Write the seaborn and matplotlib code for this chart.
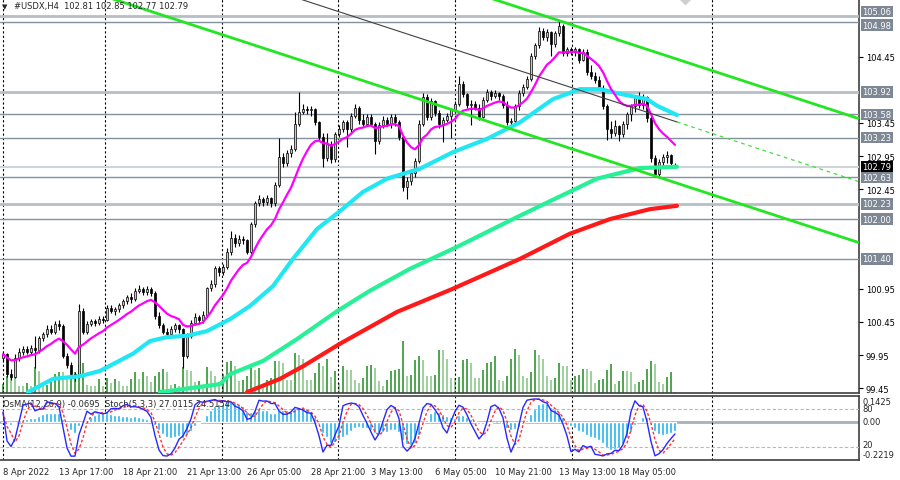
import numpy as np
import pandas as pd
import matplotlib
matplotlib.use("Agg")
import matplotlib.pyplot as plt
import matplotlib.transforms as mtransforms
import seaborn as sns

# --- #USDX H4, 169 bars ---
opens = [99.90, 99.96, 99.66, 99.62, 99.90, 100.00, 100.04, 100.00, 100.06, 100.02,
         100.20, 100.26, 100.34, 100.30, 100.42, 100.38, 99.94, 99.80, 99.66, 99.62,
         100.62, 100.30, 100.42, 100.46, 100.44, 100.50, 100.48, 100.66, 100.62, 100.64,
         100.70, 100.76, 100.82, 100.80, 100.92, 100.94, 100.90, 100.95, 100.89, 100.54,
         100.40, 100.30, 100.26, 100.34, 100.40, 100.34, 99.94, 100.24, 100.44, 100.52,
         100.48, 100.56, 100.96, 101.02, 101.26, 101.20, 101.28, 101.50, 101.72, 101.64,
         101.70, 101.68, 101.50, 101.92, 102.24, 102.30, 102.26, 102.32, 102.24, 102.52,
         102.94, 102.84, 103.00, 103.06, 103.44, 103.62, 103.66, 103.64, 103.66, 103.46,
         103.24, 102.92, 103.14, 102.90, 103.28, 103.36, 103.46, 103.36, 103.56, 103.68,
         103.50, 103.44, 103.54, 103.44, 103.18, 103.42, 103.50, 103.44, 103.54, 103.46,
         103.24, 102.48, 102.58, 102.70, 102.88, 103.44, 103.84, 103.54, 103.78, 103.60,
         103.44, 103.50, 103.56, 103.64, 103.74, 104.04, 103.88, 103.72, 103.74, 103.68,
         103.54, 103.80, 103.92, 103.86, 103.90, 103.86, 103.72, 103.46, 103.48, 103.70,
         103.90, 104.00, 104.12, 104.46, 104.62, 104.84, 104.74, 104.82, 104.64, 104.80,
         104.92, 104.50, 104.56, 104.52, 104.56, 104.40, 104.52, 104.22, 104.16, 104.10,
         103.98, 103.70, 103.36, 103.30, 103.40, 103.28, 103.44, 103.58, 103.70, 103.82,
         103.72, 103.84, 103.52, 102.92, 102.68, 102.86, 102.94, 102.96, 102.81]
highs = [100.00, 99.98, 99.74, 99.96, 100.06, 100.08, 100.08, 100.10, 100.24, 100.24,
         100.30, 100.40, 100.40, 100.46, 100.48, 100.42, 99.98, 99.84, 99.70, 100.72,
         100.66, 100.46, 100.50, 100.50, 100.54, 100.54, 100.70, 100.70, 100.68, 100.74,
         100.80, 100.86, 100.88, 100.96, 101.00, 100.98, 100.99, 100.97, 100.92, 100.60,
         100.44, 100.36, 100.38, 100.44, 100.42, 100.36, 100.28, 100.48, 100.58, 100.56,
         100.62, 100.98, 101.08, 101.30, 101.30, 101.32, 101.56, 101.82, 101.78, 101.76,
         101.74, 101.70, 101.96, 102.28, 102.36, 102.34, 102.36, 102.34, 102.56, 103.22,
         103.00, 103.04, 103.12, 103.62, 103.92, 103.74, 103.70, 103.70, 103.68, 103.48,
         103.30, 103.30, 103.18, 103.32, 103.42, 103.50, 103.50, 103.60, 103.74, 103.70,
         103.58, 103.58, 103.58, 103.46, 103.46, 103.56, 103.54, 103.58, 103.58, 103.50,
         103.26, 102.64, 102.76, 102.92, 103.50, 103.90, 103.88, 103.82, 103.80, 103.64,
         103.54, 103.60, 103.68, 103.78, 104.16, 104.08, 103.90, 103.80, 103.78, 103.74,
         103.84, 103.96, 103.94, 103.94, 103.92, 103.88, 103.78, 103.52, 103.74, 103.94,
         104.04, 104.16, 104.50, 104.66, 104.90, 104.88, 104.86, 104.84, 104.84, 104.99,
         104.94, 104.60, 104.60, 104.60, 104.58, 104.56, 104.56, 104.32, 104.22, 104.16,
         104.02, 103.74, 103.48, 103.50, 103.42, 103.48, 103.62, 103.74, 103.86, 103.92,
         103.88, 103.86, 103.56, 102.96, 102.90, 102.98, 103.02, 102.98, 102.85]
lows = [99.84, 99.62, 99.58, 99.60, 99.86, 99.95, 99.96, 99.96, 99.76, 99.98,
        100.16, 100.22, 100.26, 100.26, 100.32, 99.90, 99.76, 99.62, 99.56, 99.60,
        100.26, 100.26, 100.38, 100.38, 100.40, 100.44, 100.46, 100.58, 100.56, 100.60,
        100.66, 100.72, 100.74, 100.76, 100.88, 100.86, 100.86, 100.84, 100.50, 100.36,
        100.26, 100.22, 100.24, 100.30, 100.28, 99.76, 99.90, 100.20, 100.40, 100.42,
        100.44, 100.52, 100.92, 100.98, 101.14, 101.16, 101.24, 101.46, 101.58, 101.60,
        101.62, 101.48, 101.46, 101.88, 102.20, 102.20, 102.22, 102.18, 102.20, 102.48,
        102.78, 102.80, 102.94, 103.02, 103.40, 103.58, 103.58, 103.56, 103.42, 103.20,
        102.78, 102.88, 102.84, 102.86, 103.24, 103.32, 103.08, 103.32, 103.52, 103.44,
        103.40, 103.40, 103.40, 102.98, 103.14, 103.38, 103.40, 103.38, 103.40, 103.20,
        102.42, 102.30, 102.52, 102.64, 102.84, 103.40, 103.50, 103.50, 103.56, 103.38,
        103.16, 103.46, 103.22, 103.60, 103.70, 103.84, 103.68, 103.42, 103.64, 103.50,
        103.52, 103.76, 103.80, 103.82, 103.80, 103.68, 103.42, 103.40, 103.44, 103.64,
        103.86, 103.96, 104.08, 104.42, 104.58, 104.70, 104.68, 104.46, 104.60, 104.76,
        104.46, 104.46, 104.48, 104.46, 104.36, 104.38, 104.18, 104.12, 104.06, 103.94,
        103.66, 103.20, 103.22, 103.26, 103.18, 103.24, 103.36, 103.48, 103.62, 103.68,
        103.66, 103.46, 102.86, 102.63, 102.64, 102.80, 102.84, 102.80, 102.77]
closes = [99.96, 99.66, 99.62, 99.90, 100.00, 100.04, 100.00, 100.06, 100.02, 100.20,
          100.26, 100.34, 100.30, 100.42, 100.38, 99.94, 99.80, 99.66, 99.62, 100.62,
          100.30, 100.42, 100.46, 100.44, 100.50, 100.48, 100.66, 100.62, 100.64, 100.70,
          100.76, 100.82, 100.80, 100.92, 100.94, 100.90, 100.95, 100.89, 100.54, 100.40,
          100.30, 100.26, 100.34, 100.40, 100.34, 99.94, 100.24, 100.44, 100.52, 100.48,
          100.56, 100.96, 101.02, 101.26, 101.20, 101.28, 101.50, 101.72, 101.64, 101.70,
          101.68, 101.50, 101.92, 102.24, 102.30, 102.26, 102.32, 102.24, 102.52, 102.94,
          102.84, 103.00, 103.06, 103.44, 103.62, 103.66, 103.64, 103.66, 103.46, 103.24,
          102.92, 103.14, 102.90, 103.28, 103.36, 103.46, 103.36, 103.56, 103.68, 103.50,
          103.44, 103.54, 103.44, 103.18, 103.42, 103.50, 103.44, 103.54, 103.46, 103.24,
          102.48, 102.58, 102.70, 102.88, 103.44, 103.84, 103.54, 103.78, 103.60, 103.44,
          103.50, 103.56, 103.64, 103.74, 104.04, 103.88, 103.72, 103.74, 103.68, 103.54,
          103.80, 103.92, 103.86, 103.90, 103.86, 103.72, 103.46, 103.48, 103.70, 103.90,
          104.00, 104.12, 104.46, 104.62, 104.84, 104.74, 104.82, 104.64, 104.80, 104.92,
          104.50, 104.56, 104.52, 104.56, 104.40, 104.52, 104.22, 104.16, 104.10, 103.98,
          103.70, 103.36, 103.30, 103.40, 103.28, 103.44, 103.58, 103.70, 103.82, 103.72,
          103.84, 103.52, 102.92, 102.68, 102.86, 102.94, 102.96, 102.84, 102.79]
volumes = [9, 17, 17, 16, 7, 7, 10, 7, 26, 22, 7, 8, 11, 19, 21, 21, 14, 17, 21, 29,
           30, 8, 7, 7, 14, 7, 15, 10, 14, 12, 7, 7, 14, 21, 14, 21, 17, 11, 17, 21,
           24, 21, 8, 9, 7, 26, 23, 22, 11, 12, 7, 26, 22, 17, 11, 19, 31,
           32, 27, 12, 13, 17, 27, 23, 25, 7, 13, 15, 32, 32, 30, 13, 13, 40, 38, 34, 13,
           13, 20, 30, 27, 34, 16, 22, 10, 27, 23, 23, 13, 10, 15, 27, 28, 25, 12, 7, 13,
           22, 23, 24, 52, 17, 18, 33, 37, 33, 17, 17, 18, 43, 43, 34, 15, 15, 16, 33, 34,
           30, 15, 15, 23, 30, 31, 37, 13, 12, 17, 34, 44, 38, 17, 15, 21, 43, 38, 34, 17,
           13, 15, 30, 27, 27, 13, 17, 18, 24, 24, 22, 10, 13, 14, 23, 29,
           9, 12, 22, 22, 21, 9, 11, 13, 24, 32, 29, 11, 9, 16, 21, 1]

# slow moving averages read at sample bars
ma_cyan_bar = [6.25, 12.5, 19.25, 24.25, 32.5, 36.75, 41, 46, 51, 56.75, 61.75, 67.5, 72.5,
               78.5, 84.25, 90, 96, 104.25, 112.5, 121, 129.25, 137.5, 144.25, 149.25,
               154.25, 161, 163.5, 168.5]
ma_cyan_val = [99.39, 99.59, 99.63, 99.71, 99.97, 100.16, 100.22, 100.24, 100.31, 100.49,
               100.69, 100.99, 101.40, 101.85, 102.12, 102.41, 102.61, 102.76, 103.01,
               103.21, 103.46, 103.81, 103.96, 103.96, 103.89, 103.81, 103.71, 103.57]
ma_green_bar = [39.25, 54.25, 56.75, 65, 73.5, 83.5, 91.75, 101.75, 113.5, 127.5, 136.75,
                148.5, 159.25, 168.5]
ma_green_val = [99.39, 99.51, 99.66, 99.86, 100.19, 100.61, 100.92, 101.25, 101.58, 102.00,
                102.27, 102.61, 102.77, 102.79]
ma_red_bar = [61, 69.25, 75, 84.25, 98.5, 112.5, 129.25, 141.75, 151.75, 161.75, 168.5]
ma_red_val = [99.39, 99.59, 99.78, 100.12, 100.60, 100.95, 101.40, 101.78, 102.00, 102.15,
              102.20]

# trend lines (bar, price)
channel_low_bar = [27.5, 213.75]
channel_low_val = [105.32, 101.65]
channel_high_bar = [122.5, 213.75]
channel_high_val = [105.32, 103.52]
thin_line_bar = [74.25, 168.5, 213.75]
thin_line_val = [105.32, 103.465, 102.57]

levels_light = [105.06, 103.92, 102.23]
levels_dark = [104.98, 103.58, 103.23, 102.63, 102.00, 101.40]
bid_price = 102.79
price_ticks = [104.45, 103.45, 102.95, 102.45, 100.95, 100.45, 99.95, 99.45]

time_bars = [0, 14, 30, 46, 61, 77, 92, 108, 123, 139, 154]
time_labels = ["8 Apr 2022", "13 Apr 17:00", "18 Apr 21:00", "21 Apr 13:00", "26 Apr 05:00",
               "28 Apr 21:00", "3 May 13:00", "6 May 05:00", "10 May 21:00", "13 May 13:00",
               "18 May 05:00"]
grid_bars = [0, 25.5, 54.75, 83.75, 113, 142.25, 177.25]

sns.set_style("white")
plt.rcParams['font.family'] = ['DejaVu Sans']

df = pd.DataFrame({'open': opens, 'high': highs, 'low': lows, 'close': closes,
                   'volume': volumes})
df['bar'] = np.arange(len(df))
df['ma_fast'] = df['close'].ewm(span=12, adjust=False).mean()

# OsMA(12,26,9)
macd = df['close'].ewm(span=12, adjust=False).mean() - df['close'].ewm(span=26, adjust=False).mean()
df['osma'] = macd - macd.rolling(9, min_periods=1).mean()
# Stochastic(5,3,3)
ll = df['low'].rolling(5, min_periods=1).min()
hh = df['high'].rolling(5, min_periods=1).max()
num = (df['close'] - ll).rolling(3, min_periods=1).sum()
den = (hh - ll).rolling(3, min_periods=1).sum()
df['stoch_k'] = 100 * num / den
df['stoch_d'] = df['stoch_k'].rolling(3, min_periods=1).mean()

fig = plt.figure(figsize=(9, 4.81), dpi=100)
axv = fig.add_axes([0, 0.1809, 0.9544, 0.8191])
ax = axv.twinx()
axi = fig.add_axes([0, 0.0416, 0.9544, 0.1331], sharex=axv)
axs = axi.twinx()

axv.set_xlim(-0.75, 214)
ax.set_ylim(99.377, 105.32)
axv.set_ylim(0, 394)

# volumes
vol_prev = df['volume'].shift(1).fillna(0)
vol_col = np.where(df['volume'] > vol_prev, '#1f8c1f', '#82c482')
axv.vlines(df['bar'], 0, df['volume'], colors=vol_col, linewidth=1.1)

for g in grid_bars:
    axv.axvline(g, color='black', linewidth=0.8, linestyle=(0, (2, 2)))
    axi.axvline(g, color='black', linewidth=0.8, linestyle=(0, (2, 2)))

# horizontal levels
for lv in levels_light:
    ax.axhline(lv, color='#b6bec6', linewidth=2, zorder=1)
for lv in levels_dark:
    ax.axhline(lv, color='#8492a0', linewidth=1, zorder=1)
ax.axhline(bid_price, color='#d0d4d8', linewidth=1.5, zorder=1)

# candles
up = df['close'] >= df['open']
ax.vlines(df['bar'], df['low'], df['high'], colors='black', linewidth=0.8, zorder=3)
body_h = (df['close'] - df['open']).abs().clip(lower=0.01)
body_b = df[['open', 'close']].min(axis=1)
ax.bar(df['bar'][up], body_h[up], bottom=body_b[up], width=0.7, color='#c8c8c8',
       edgecolor='black', linewidth=0.5, zorder=4)
ax.bar(df['bar'][~up], body_h[~up], bottom=body_b[~up], width=0.7, color='black',
       edgecolor='black', linewidth=0.5, zorder=4)

# moving averages
sns.lineplot(x=ma_red_bar, y=ma_red_val, ax=ax, color='#ff1a1a', linewidth=3, zorder=5)
sns.lineplot(x=ma_green_bar, y=ma_green_val, ax=ax, color='#28f096', linewidth=3, zorder=5)
sns.lineplot(x=ma_cyan_bar, y=ma_cyan_val, ax=ax, color='#22e6f2', linewidth=3, zorder=5)
sns.lineplot(x=df['bar'], y=df['ma_fast'], ax=ax, color='#ff00ff', linewidth=1.6, zorder=6)

# trend lines
ax.plot(channel_low_bar, channel_low_val, color='#22e622', linewidth=2, zorder=6)
ax.plot(channel_high_bar, channel_high_val, color='#22e622', linewidth=2, zorder=6)
ax.plot(thin_line_bar[:2], thin_line_val[:2], color='#404040', linewidth=0.8, zorder=6)
ax.plot(thin_line_bar[1:], thin_line_val[1:], color='#40e040', linewidth=0.9,
        linestyle=(0, (3, 3)), zorder=6)
ax.plot([170.5], [105.38], marker='D', markersize=9, color='#cfcfcf', zorder=6)

# price scale on the right
ax.set_yticks(price_ticks)
ax.set_yticklabels([f"{t:.2f}" for t in price_ticks])
ax.tick_params(axis='y', length=3, width=0.8, pad=2, labelsize=6, colors='black')
axv.tick_params(axis='y', left=False, labelleft=False)
axv.tick_params(axis='x', bottom=False, labelbottom=False)
ybl = mtransforms.blended_transform_factory(ax.transAxes, ax.transData)
# the two top labels sit very close: nudge them apart a little
nudge = {105.06: 3.5, 104.98: -2.5}
for lv in levels_light + levels_dark:
    tr = mtransforms.offset_copy(ybl, fig=fig, x=0, y=nudge.get(lv, 0), units='points')
    ax.text(1.004, lv, f"{lv:.2f}", transform=tr, ha='left', va='center', fontsize=6,
            color='white', zorder=7 if lv != 105.06 else 6,
            bbox=dict(boxstyle='square,pad=0.15', fc='#7d8894', ec='none'))
ax.text(1.004, bid_price, f"{bid_price:.2f}", transform=ybl, ha='left', va='center',
        fontsize=6, color='white', bbox=dict(boxstyle='square,pad=0.15', fc='black', ec='none'))

for a in (ax, axv):
    for s in ('top', 'left'):
        a.spines[s].set_visible(False)
for s in ('right', 'bottom'):
    ax.spines[s].set_visible(False)
    axv.spines[s].set_color('#404040')
    axv.spines[s].set_linewidth(1.2)

fig.text(2 / 900, 1 - 7 / 481, "\u25bc", fontsize=5, va='center', ha='left')
fig.text(14 / 900, 1 - 7 / 481, "#USDX,H4  102.81 102.85 102.77 102.79", fontsize=6,
         va='center', ha='left')

# indicator window
axi.set_ylim(-0.274, 0.184)
axs.set_ylim(-0.5, 100.5)
axi.axhline(0, color='#a8b0b8', linewidth=2, zorder=1)
axs.axhline(80, color='#b8b8b8', linewidth=0.8, linestyle=(0, (3, 2)))
axs.axhline(20, color='#b8b8b8', linewidth=0.8, linestyle=(0, (3, 2)))
axi.bar(df['bar'], df['osma'], width=0.75, color='#1eb4f0', zorder=2)
sns.lineplot(x=df['bar'], y=df['stoch_d'], ax=axs, color='#ff3030', linewidth=1,
             linestyle=(0, (2, 1.5)))
sns.lineplot(x=df['bar'], y=df['stoch_k'], ax=axs, color='#2828ff', linewidth=1)
axs.set_yticks([])
axs.set_ylabel('')
axi.set_ylabel('')
ax.set_ylabel('')
axv.set_ylabel('')
axi.set_yticks([])
for s in axs.spines.values():
    s.set_visible(False)
axi.spines['left'].set_visible(False)
for s in ('top', 'bottom', 'right'):
    axi.spines[s].set_color('#404040')
    axi.spines[s].set_linewidth(1.2)

axi.set_xticks(time_bars)
axi.set_xticklabels(time_labels)
axi.tick_params(axis='x', length=3, width=0.8, pad=2, labelsize=6)
for t in axi.get_xticklabels():
    t.set_ha('left')
axi.set_xlabel('')

axi.text(0.004, 0.875, "OsMA(12,26,9) -0.0695  Stoch(5,3,3) 27.0115 24.5154",
         transform=axi.transAxes, fontsize=6, va='center', ha='left')
ib = mtransforms.blended_transform_factory(axi.transAxes, axi.transData)
sb = mtransforms.blended_transform_factory(axs.transAxes, axs.transData)
ib_low = mtransforms.offset_copy(ib, fig=fig, x=0, y=-1.5, units='points')
sb_up = mtransforms.offset_copy(sb, fig=fig, x=0, y=1.5, units='points')
axi.text(1.004, 0.1425, "0.1425", transform=ib, fontsize=6, va='center', ha='left')
axs.text(1.004, 80, "80", transform=sb, fontsize=6, va='center', ha='left')
axi.text(1.004, 0.0, "0.00", transform=ib, fontsize=6, va='center', ha='left')
axs.text(1.004, 20, "20", transform=sb_up, fontsize=6, va='center', ha='left')
axi.text(1.004, -0.2219, "-0.2219", transform=ib_low, fontsize=6, va='center', ha='left')

fig.savefig("out.png", dpi=100)
